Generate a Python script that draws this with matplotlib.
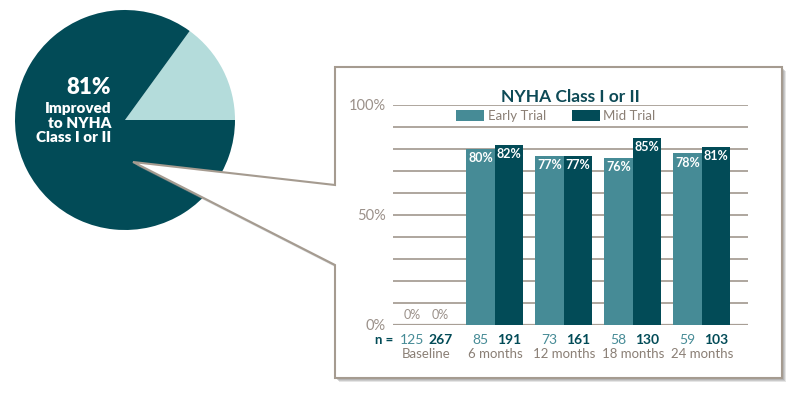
import matplotlib.pyplot as plt
import numpy as np
from matplotlib.patches import Patch, Polygon

plt.rcParams['font.family'] = ['Lato', 'DejaVu Sans']

# Data
categories = ['Baseline', '6 months', '12 months', '18 months', '24 months']
early_trial = [0, 80, 77, 76, 78]
mid_trial = [0, 82, 77, 85, 81]
n_early = [125, 85, 73, 58, 59]
n_mid = [267, 191, 161, 130, 103]
pie_values = [15, 85]  # light wedge, dark wedge (as drawn)

# Colors
early_color = '#468b96'
mid_color = '#024b57'
pie_light = '#b4dcdb'
grid_color = '#a89f96'
label_grey = '#9b918a'
cat_grey = '#8a7f75'

W, H = 795, 393
fig = plt.figure(figsize=(W / 100, H / 100), dpi=100)


def fig_box(x0, y0, x1, y1):
    # pixel box (top-left origin) to figure fraction
    return [x0 / W, (H - y1) / H, (x1 - x0) / W, (y1 - y0) / H]


# Pie
ax_pie = fig.add_axes(fig_box(15, 10, 235, 230))
ax_pie.pie(pie_values, colors=[pie_light, mid_color], startangle=0,
           counterclock=True, radius=1, wedgeprops=dict(linewidth=0))
ax_pie.set_xlim(-1, 1)
ax_pie.set_ylim(-1, 1)
ax_pie.set_zorder(0)

# Callout box overlay
ax_bg = fig.add_axes([0, 0, 1, 1])
ax_bg.set_xlim(0, W)
ax_bg.set_ylim(H, 0)
ax_bg.axis('off')
ax_bg.set_facecolor('none')
ax_bg.set_zorder(1)

callout = [(335, 67), (782, 67), (782, 378), (335, 378), (335, 265),
           (133, 162), (335, 185)]
for off, a in [(4, 0.25), (3, 0.35), (2, 0.4)]:
    shadow = [(x + off, y + off) for x, y in callout]
    ax_bg.add_patch(Polygon(shadow, closed=True, facecolor='#9a9a9a',
                            edgecolor='none', alpha=a))
ax_bg.add_patch(Polygon(callout, closed=True, facecolor='white',
                        edgecolor='#a59b90', linewidth=1.5))

ax_bg.text(111, 87, '81%', color='white', fontsize=16, fontweight='heavy',
           ha='right', va='center')
ax_bg.text(111, 123, 'Improved\nto NYHA\nClass I or II', color='white',
           fontsize=11, fontweight='heavy', ha='right', va='center',
           linespacing=1.1)

# Bar chart
ax = fig.add_axes(fig_box(393, 105, 748, 325))
ax.set_zorder(2)
ax.set_facecolor('none')

x = np.arange(len(categories))
w = 0.413
ax.bar(x - w / 2, early_trial, w, color=early_color, label='Early Trial')
ax.bar(x + w / 2, mid_trial, w, color=mid_color, label='Mid Trial')

ax.set_xlim(-0.478, 4.667)
ax.set_ylim(0, 100)
ax.set_yticks(np.arange(0, 101, 10))
ax.set_yticklabels(['0%' if t == 0 else '50%' if t == 50 else '100%' if t == 100 else ''
                    for t in range(0, 101, 10)])
ax.tick_params(axis='y', length=0, pad=5, labelsize=10.5, labelcolor=label_grey)
ax.set_xticks([])
ax.yaxis.grid(True, color=grid_color, linewidth=1.3)
ax.set_axisbelow(True)
for s in ax.spines.values():
    s.set_visible(False)
ax.axhline(0, color=grid_color, linewidth=1.6, zorder=0.5)

# Value labels
for xi, e, m in zip(x, early_trial, mid_trial):
    for xx, v in [(xi - w / 2, e), (xi + w / 2, m)]:
        if v == 0:
            ax.text(xx, 2, f'{v}%', ha='center', va='bottom', fontsize=9,
                    color=label_grey)
        else:
            ax.text(xx, v - 1.5, f'{v}%', ha='center', va='top', fontsize=9,
                    color='white', fontweight='bold')

# n labels and category labels
ax.text(-0.48, -6.8, 'n =', ha='right', va='center', fontsize=9.5,
        color=mid_color, fontweight='bold', clip_on=False)
for xi, ne, nm, cat in zip(x, n_early, n_mid, categories):
    ax.text(xi - w / 2, -6.8, str(ne), ha='center', va='center', fontsize=10,
            color=early_color, clip_on=False)
    ax.text(xi + w / 2, -6.8, str(nm), ha='center', va='center', fontsize=10,
            color=mid_color, fontweight='bold', clip_on=False)
    ax.text(xi, -13.2, cat, ha='center', va='center', fontsize=9.5,
            color=cat_grey, clip_on=False)

# Title and legend
ax.text(0.4986, 1.036, 'NYHA Class I or II', transform=ax.transAxes,
        ha='center', va='center', fontsize=12.5, fontweight='bold',
        color='#0d4a56')
handles = [Patch(facecolor=early_color), Patch(facecolor=mid_color)]
leg = ax.legend(handles, ['Early Trial', 'Mid Trial'], loc='center',
                bbox_to_anchor=(0.459, 0.95), ncol=2, frameon=False,
                fontsize=9.5, handlelength=2.1, handleheight=0.83,
                handletextpad=0.25, columnspacing=2.0, borderpad=0)
for t in leg.get_texts():
    t.set_color(cat_grey)

fig.savefig('out.png', dpi=100)
